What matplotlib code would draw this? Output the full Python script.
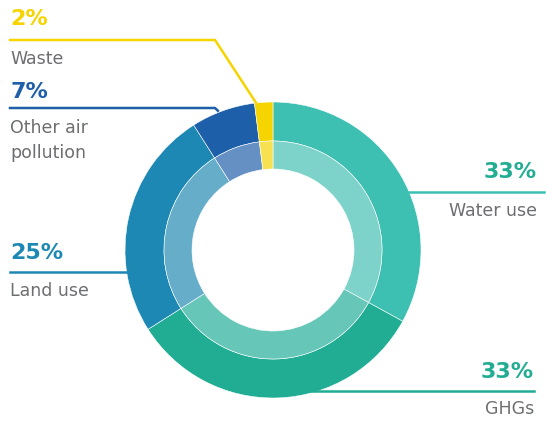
import numpy as np
import matplotlib
matplotlib.use("Agg")
import matplotlib.pyplot as plt

# shares, clockwise from 12 o'clock
categories = ["Water use", "GHGs", "Land use", "Other air\npollution", "Waste"]
shares = [33, 33, 25, 7, 2]
pct_labels = ["33%", "33%", "25%", "7%", "2%"]
outer_colors = ["#3dbfb2", "#20ad94", "#1e88b4", "#1d5fa8", "#f6d400"]
inner_colors = ["#7dd3c9", "#66c6b8", "#66adca", "#6490c4", "#f8e150"]
pct_colors = ["#22ad93", "#22ad93", "#1e88b4", "#1d5fa8", "#f6d400"]

W, H = 546, 421
CX, CY = 273, H - 250
R_OUT, R_MID, R_HOLE = 148, 109, 81
GREY = "#6d6e71"
FONT = ["DejaVu Sans"]

fig = plt.figure(figsize=(W / 100, H / 100), dpi=100)
ax = fig.add_axes([0, 0, 1, 1])

ax.pie(shares, colors=outer_colors, radius=R_OUT, center=(CX, CY), startangle=90,
       counterclock=False, wedgeprops=dict(width=R_OUT - R_MID, linewidth=0.4, edgecolor="white"))
ax.pie(shares, colors=inner_colors, radius=R_MID, center=(CX, CY), startangle=90,
       counterclock=False, wedgeprops=dict(width=R_MID - R_HOLE, linewidth=0.4, edgecolor="white"))
ax.set_xlim(0, W)
ax.set_ylim(0, H)
ax.set_aspect("equal")
ax.axis("off")


def px(y):
    return H - y


def edge_x(y_px, side):
    dy = px(y_px) - CY
    return CX + side * np.sqrt(R_OUT ** 2 - dy ** 2)


def mid_point(i):
    cum = np.cumsum([0] + shares) / sum(shares)
    a = np.deg2rad(360 * (cum[i] + cum[i + 1]) / 2)
    return CX + R_OUT * np.sin(a), CY + R_OUT * np.cos(a)


def pct(x, y, i, ha):
    ax.text(x, px(y), pct_labels[i], color=pct_colors[i], fontsize=16, fontweight="bold",
            ha=ha, va="center", family=FONT)


def name(x, y, i, ha):
    ax.text(x, px(y), categories[i], color=GREY, fontsize=12.5, ha=ha, va="top",
            family=FONT, linespacing=1.5)


# Water use (right)
pct(537, 172, 0, "right")
ax.plot([edge_x(192, 1) - 4, 544], [px(192)] * 2, color=outer_colors[0], lw=1.8)
name(537, 202, 0, "right")

# GHGs (right)
pct(534, 372, 1, "right")
ax.plot([edge_x(391, 1) - 6, 534], [px(391)] * 2, color=outer_colors[1], lw=1.8)
name(534, 400, 1, "right")

# Land use (left)
pct(10, 253, 2, "left")
ax.plot([10, edge_x(272, -1) + 4], [px(272)] * 2, color=outer_colors[2], lw=1.8)
name(10, 282, 2, "left")

# Other air pollution (left, elbow)
mx, my = mid_point(3)
pct(10, 92, 3, "left")
ax.plot([10, 215, mx - 5], [px(108), px(108), my], color=outer_colors[3], lw=1.8)
name(10, 119, 3, "left")

# Waste (left, elbow)
mx, my = mid_point(4)
pct(10, 19, 4, "left")
ax.plot([10, 215, mx - 8], [px(40), px(40), my], color=outer_colors[4], lw=1.8)
name(10, 50, 4, "left")

fig.savefig("out.png", dpi=100)
